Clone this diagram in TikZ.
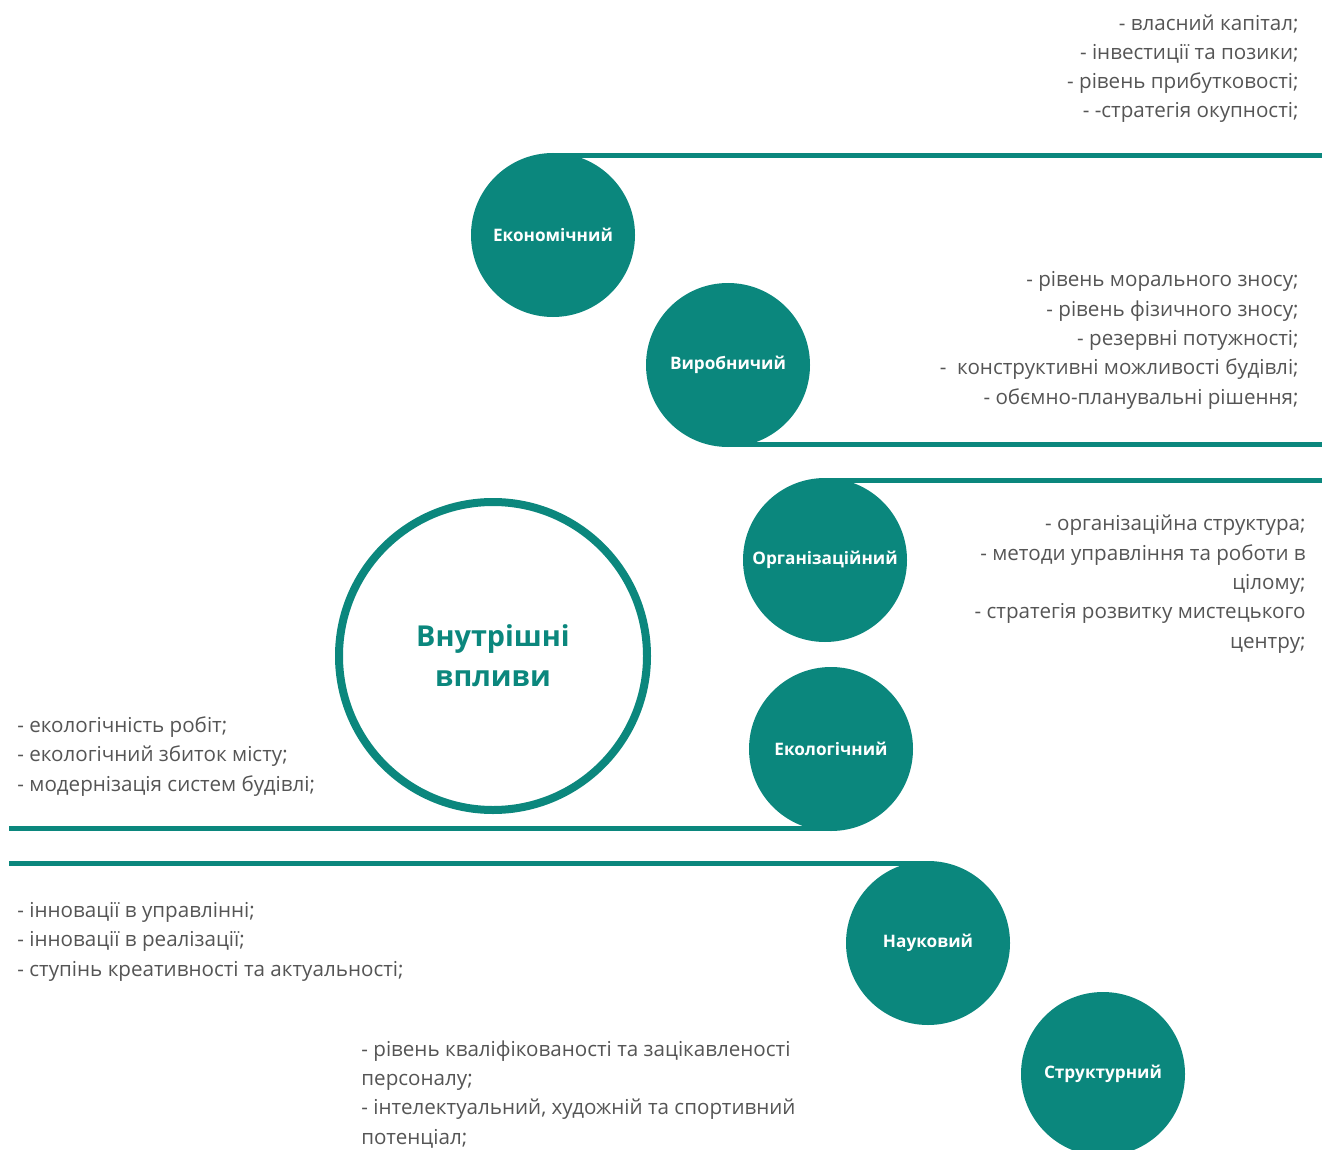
\documentclass[tikz,border=0pt]{standalone}
\usepackage{fontspec}
\setmainfont{Open Sans}
\usepackage{xcolor}
\usepackage{tikz}
\usetikzlibrary{positioning,calc}
\definecolor{teal}{HTML}{0B877D}
\definecolor{txtgray}{HTML}{555555}

\begin{document}
\begin{tikzpicture}[
  x=0.5pt, y=-0.5pt,
  factor/.style={circle, fill=teal, text=white, minimum size=82pt, inner sep=0pt,
                 outer sep=-1.25pt, font=\fontsize{8.6}{10}\selectfont\bfseries},
  core/.style={circle, draw=teal, line width=4pt, minimum size=154pt, inner sep=0pt,
               text=teal, align=center, font=\fontsize{14.4}{20}\selectfont\bfseries},
  band/.style={draw=teal, line width=2.5pt},
  notes/.style={text=txtgray, inner sep=0pt, font=\fontsize{10.3}{14.65}\selectfont}
]
\useasboundingbox (0,0) rectangle (1322,1150);

\coordinate (rgt) at (1322,0);
\coordinate (lft) at (9,0);

\node (core) [core] at (493,656) {Внутрішні\\впливи};

\node (econ)  [factor] at (553,235)  {Економічний};
\node (prod)  [factor] at (728,365)  {Виробничий};
\node (org)   [factor] at (825,560)  {Організаційний};
\node (ecol)  [factor] at (831,749)  {Екологічний};
\node (sci)   [factor] at (928,943)  {Науковий};
\node (struc) [factor] at (1103,1074) {Структурний};

\draw [band] (econ.north)  -- (econ.north -| rgt);
\draw [band] (prod.south)  -- (prod.south -| rgt);
\draw [band] (org.north)   -- (org.north -| rgt);
\draw [band] (ecol.south)  -- (ecol.south -| lft);
\draw [band] (sci.north)   -- (sci.north -| lft);

% anchors sit on the last line
\node (econtxt) [notes, align=right, anchor=base east] at (1299,118)
  {- власний капітал;\\
   - інвестиції та позики;\\
   - рівень прибутковості;\\
   - -стратегія окупності;};

\node (prodtxt) [notes, align=right, anchor=base east] at (1299,404)
  {- рівень морального зносу;\\
   - рівень фізичного зносу;\\
   - резервні потужності;\\
   -~~конструктивні можливості будівлі;\\
   - обємно-планувальні рішення;};

\node (orgtxt) [notes, align=right, anchor=base east] at (1306,648)
  {- організаційна структура;\\
   - методи управління та роботи в\\
   цілому;\\
   - стратегія розвитку мистецького\\
   центру;};

\node (ecoltxt) [notes, align=left, anchor=base west] at (17,791)
  {- екологічність робіт;\\
   - екологічний збиток місту;\\
   - модернізація систем будівлі;};

\node (scitxt) [notes, align=left, anchor=base west] at (17,976)
  {- інновації в управлінні;\\
   - інновації в реалізації;\\
   - ступінь креативності та актуальності;};

\node (structxt) [notes, align=left, anchor=base west] at (361,1144)
  {- рівень кваліфікованості та зацікавленості\\
   персоналу;\\
   - інтелектуальний, художній та спортивний\\
   потенціал;};

\end{tikzpicture}
\end{document}
